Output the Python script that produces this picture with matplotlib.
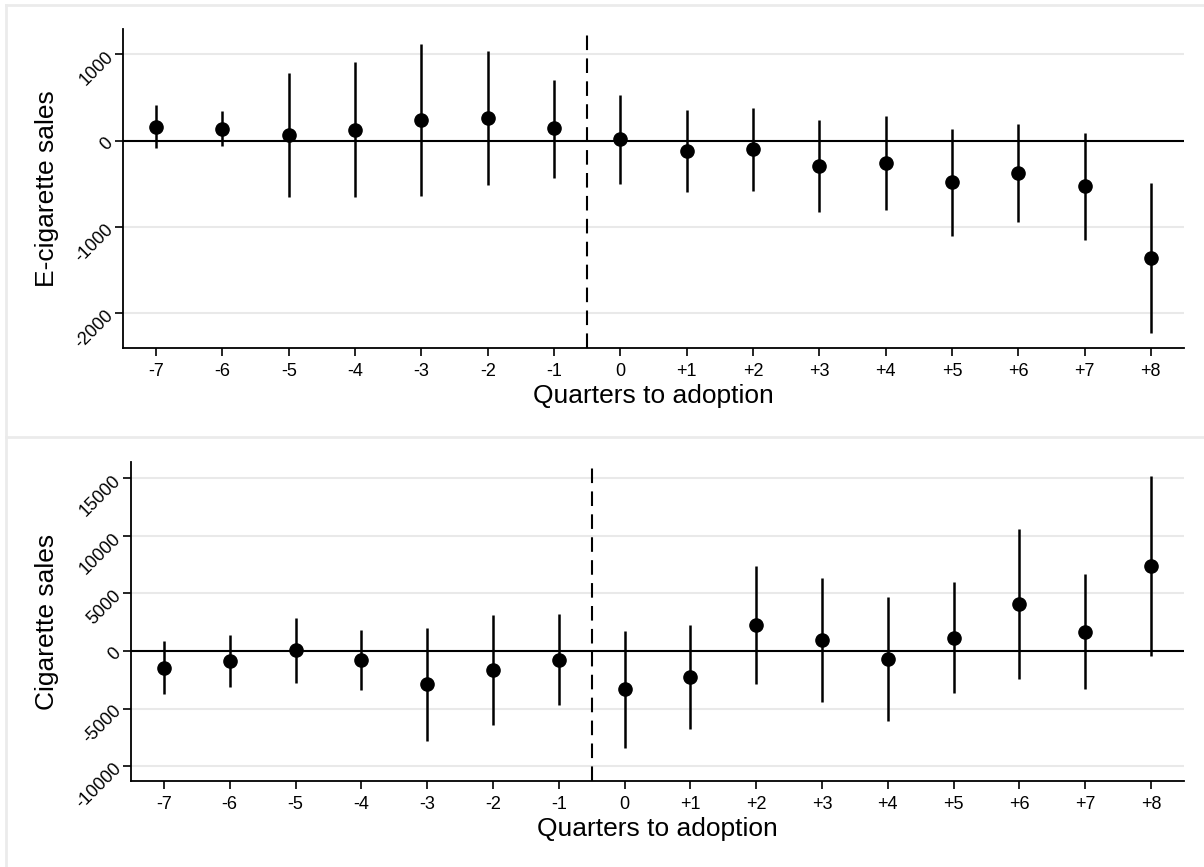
import matplotlib
matplotlib.use("Agg")
import matplotlib.pyplot as plt
from matplotlib.lines import Line2D

plt.rcParams['font.family'] = ['Liberation Sans', 'DejaVu Sans']

quarters = [-7, -6, -5, -4, -3, -2, -1, 0, 1, 2, 3, 4, 5, 6, 7, 8]
xtick_labels = ['-7', '-6', '-5', '-4', '-3', '-2', '-1', '0',
                '+1', '+2', '+3', '+4', '+5', '+6', '+7', '+8']

ecig_est = [157, 139, 69, 127, 243, 266, 142, 12,
            -120, -101, -293, -262, -482, -374, -528, -1357]
ecig_lo = [-92, -62, -652, -659, -644, -509, -428, -505,
           -590, -586, -829, -809, -1106, -944, -1156, -2224]
ecig_hi = [408, 342, 782, 905, 1121, 1036, 705, 524,
           354, 377, 243, 284, 139, 192, 92, -494]
ecig_yticks = [1000, 0, -1000, -2000]

cig_est = [-1453, -872, 58, -785, -2878, -1657, -756, -3343,
           -2267, 2267, 959, -698, 1134, 4099, 1686, 7384]
cig_lo = [-3721, -3140, -2791, -3372, -7849, -6424, -4651, -8459,
          -6773, -2878, -4419, -6076, -3663, -2442, -3314, -436]
cig_hi = [843, 1395, 2878, 1831, 2035, 3169, 3198, 1715,
          2267, 7413, 6337, 4738, 5959, 10640, 6686, 15174]
cig_yticks = [15000, 10000, 5000, 0, -5000, -10000]

W, H = 1204, 867
fig = plt.figure(figsize=(W / 100, H / 100), dpi=100)

# panel frames (light gray, open on the right)
frame_col = '#ebebeb'
for (x0, x1, y0, y1) in [(6, 1204, 5, 5), (6, 1204, 437, 437),
                         (6, 6, 5, 867)]:
    fig.add_artist(Line2D([x0 / W, x1 / W], [1 - y0 / H, 1 - y1 / H],
                          transform=fig.transFigure, color=frame_col,
                          lw=2, zorder=0))


def panel(rect, est, lo, hi, yticks, ylim, ylabel, ylab_x):
    ax = fig.add_axes(rect)
    for t in yticks:
        ax.axhline(t, color='#e9e9e9', lw=1.5, zorder=0)
    ax.axhline(0, color='black', lw=1.5, zorder=1)
    ax.axvline(-0.5, color='black', lw=1.5, ls=(0, (7, 4)), zorder=1)
    yerr = [[e - l for e, l in zip(est, lo)], [h - e for e, h in zip(est, hi)]]
    ax.errorbar(quarters, est, yerr=yerr, fmt='o', color='black',
                ms=9.5, elinewidth=1.8, capsize=0, zorder=3)
    ax.set_xlim(-7.5, 8.5)
    ax.set_ylim(*ylim)
    ax.set_xticks(quarters)
    ax.set_xticklabels(xtick_labels, fontsize=13)
    ax.set_yticks(yticks)
    ax.set_yticklabels([str(t) for t in yticks], fontsize=13, rotation=45,
                       va='center', ha='right', rotation_mode='anchor')
    for s in ['top', 'right']:
        ax.spines[s].set_visible(False)
    for s in ['left', 'bottom']:
        ax.spines[s].set_linewidth(1.3)
    ax.tick_params(axis='x', length=6, width=1.2, color='black', pad=5)
    ax.tick_params(axis='y', length=6, width=1.2, color='black', pad=3)
    ax.set_xlabel('Quarters to adoption', fontsize=19, labelpad=3)
    ax.set_ylabel(ylabel, fontsize=19)
    ax.yaxis.set_label_coords(ylab_x, 0.5)
    return ax


panel([123 / W, 1 - 348 / H, (1184 - 123) / W, (348 - 29) / H],
      ecig_est, ecig_lo, ecig_hi, ecig_yticks, (-2400, 1290),
      'E-cigarette sales', (59 - 123) / 1061)
panel([131 / W, 1 - 781 / H, (1184 - 131) / W, (781 - 462) / H],
      cig_est, cig_lo, cig_hi, cig_yticks, (-11300, 16430),
      'Cigarette sales', (59 - 131) / 1053)

fig.savefig('out.png', dpi=100, facecolor='white')
